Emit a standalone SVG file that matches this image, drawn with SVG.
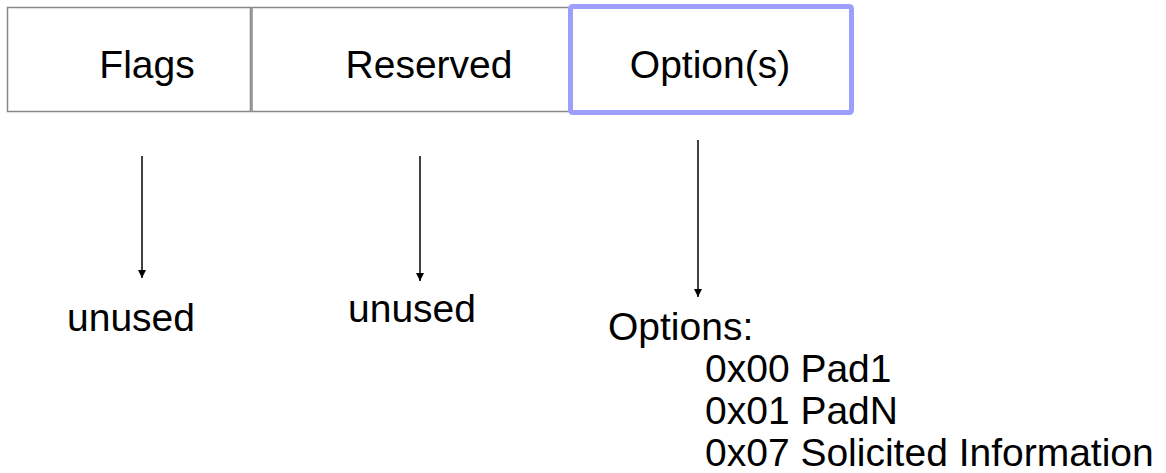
<svg xmlns="http://www.w3.org/2000/svg" width="1166" height="473" viewBox="0 0 1166 473">
<style>
.t{font-family:"Liberation Sans",Arial,sans-serif;font-size:39px;fill:#000}
.box{fill:#fff;stroke:#888;stroke-width:1.5}
.arrow{stroke:#000;stroke-width:1.5;fill:none}
</style>
<defs>
<marker id="ah" viewBox="0 0 10 10" refX="10" refY="5" markerWidth="8" markerHeight="8" markerUnits="userSpaceOnUse" orient="auto">
<path d="M0,0 L10,5 L0,10 z" fill="#000"/>
</marker>
</defs>
<rect width="1166" height="473" fill="#fff"/>
<g id="flags">
<rect class="box" x="7.5" y="7.5" width="243" height="104"/>
<text class="t" x="147" y="78" text-anchor="middle">Flags</text>
</g>
<g id="reserved">
<rect class="box" x="252" y="7.5" width="318" height="104"/>
<text class="t" x="429" y="78" text-anchor="middle">Reserved</text>
</g>
<g id="options">
<rect x="570.5" y="6.5" width="281" height="106" rx="2" fill="#fff" stroke="#9e9eff" stroke-width="5"/>
<text class="t" x="710" y="78" text-anchor="middle">Option(s)</text>
</g>
<g id="connectors">
<line class="arrow" x1="142" y1="156" x2="142" y2="278" marker-end="url(#ah)"/>
<line class="arrow" x1="420" y1="156" x2="420" y2="281" marker-end="url(#ah)"/>
<line class="arrow" x1="698" y1="140" x2="698" y2="297" marker-end="url(#ah)"/>
</g>
<g id="labels">
<text class="t" x="131" y="331" text-anchor="middle">unused</text>
<text class="t" x="412" y="322" text-anchor="middle">unused</text>
<text class="t" x="608" y="340">Options:</text>
<text class="t" x="705" y="382">0x00 Pad1</text>
<text class="t" x="705" y="424">0x01 PadN</text>
<text class="t" x="705" y="466">0x07 Solicited Information</text>
</g>
</svg>
